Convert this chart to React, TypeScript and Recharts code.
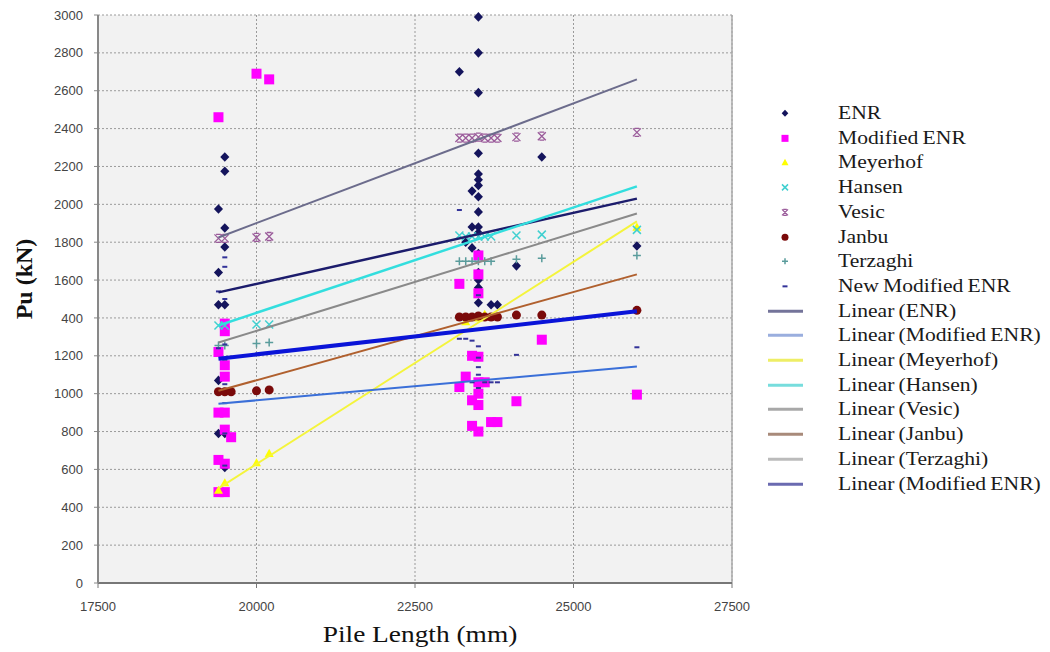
import React from "react"
import { ScatterChart, Scatter, XAxis, YAxis, CartesianGrid, ReferenceLine } from "recharts"

type Pt = [number, number]

const xTicks = [17500, 20000, 22500, 25000, 27500]
const yTicks = [0, 200, 400, 600, 800, 1000, 1200, 1400, 1600, 1800, 2000, 2200, 2400, 2600, 2800, 3000]
const yTickLabels = ["0", "200", "400", "600", "800", "1000", "1200", "400", "1600", "1800", "2000", "2200", "2400", "2600", "2800", "3000"]

const enr: Pt[] = [
  [19500, 2250], [19500, 2175], [19400, 1975], [19500, 1875], [19500, 1775], [19400, 1640],
  [19400, 1470], [19500, 1470], [19400, 1070], [19400, 790], [19500, 790], [19500, 610],
  [23500, 2990], [23500, 2800], [23200, 2700], [23500, 2590], [23500, 2270], [23500, 2160],
  [23500, 2130], [23500, 2100], [23400, 2070], [23500, 2040], [23500, 1960], [23400, 1880],
  [23500, 1880], [23500, 1850], [23300, 1800], [23400, 1770], [23500, 1740], [23500, 1640],
  [23500, 1600], [23500, 1560], [23500, 1530], [23500, 1480], [23700, 1470], [23800, 1470],
  [24100, 1675], [24500, 2250], [26000, 1780],
]
const modifiedEnr: Pt[] = [
  [19400, 2460], [20000, 2690], [20200, 2660], [19500, 1370], [19500, 1330], [19400, 1220],
  [19500, 1150], [19500, 1090], [19400, 900], [19500, 900], [19500, 810], [19600, 770],
  [19400, 650], [19500, 630], [19400, 480], [19500, 480],
  [23500, 1730], [23500, 1630], [23200, 1580], [23500, 1530], [23400, 1200], [23500, 1195],
  [23300, 1090], [23500, 1060], [23200, 1035], [23600, 1060], [23500, 1000], [23400, 965],
  [23500, 940], [23400, 830], [23500, 800], [23700, 850], [23800, 850], [24100, 960],
  [24500, 1285], [26000, 995],
]
const meyerhof: Pt[] = [
  [19400, 490], [19500, 530], [20000, 635], [20200, 685], [23300, 1380], [23500, 1400],
  [23600, 1420], [26000, 1880],
]
const hansen: Pt[] = [
  [19400, 1360], [19500, 1360], [20000, 1365], [20200, 1365], [23200, 1835], [23300, 1830],
  [23400, 1830], [23500, 1830], [23600, 1830], [23700, 1830], [24100, 1835], [24500, 1840],
  [26000, 1865],
]
const vesic: Pt[] = [
  [19400, 1820], [19500, 1820], [20000, 1825], [20200, 1830], [23200, 2350], [23300, 2350],
  [23400, 2350], [23500, 2355], [23600, 2350], [23700, 2350], [23800, 2350], [24100, 2355],
  [24500, 2360], [26000, 2380],
]
const janbu: Pt[] = [
  [19400, 1010], [19500, 1010], [19600, 1010], [20000, 1015], [20200, 1020], [23200, 1405],
  [23300, 1405], [23400, 1405], [23500, 1410], [23600, 1405], [23700, 1405], [23800, 1405],
  [24100, 1415], [24500, 1415], [26000, 1440],
]
const terzaghi: Pt[] = [
  [19400, 1255], [19500, 1255], [20000, 1265], [20200, 1270], [23200, 1700], [23300, 1700],
  [23400, 1700], [23500, 1700], [23600, 1700], [23700, 1700], [24100, 1710], [24500, 1715],
  [26000, 1730],
]
const newModifiedEnr: Pt[] = [
  [19500, 1720], [19500, 1670], [19400, 1540], [19500, 1500], [19500, 1260], [19400, 1240],
  [19500, 1180], [19500, 1050], [19500, 950], [19500, 790], [19500, 620],
  [23200, 1970], [23500, 1520], [23200, 1290], [23300, 1290], [23400, 1280], [23500, 1250],
  [23500, 1190], [23500, 1140], [23500, 1100], [23400, 1060], [23600, 1060], [23700, 1060],
  [23800, 1060], [23500, 1030], [24100, 1205], [26000, 1245],
]

// trend lines, end points
const trendX = [19400, 26000]
const trendVesic = [1825, 2660]
const trendEnr = [1535, 2030]
const trendHansen = [1360, 2095]
const trendTerzaghi = [1270, 1952]
const trendMeyerhof = [500, 1910]
const trendJanbu = [1015, 1630]
const trendNewMod = [1185, 1435]
const trendModEnr = [947, 1143]

const toXY = (pts: Pt[]) => pts.map(([x, y]) => ({ x, y }))
const trend = (ys: number[]) => trendX.map((x, i) => ({ x, y: ys[i] }))

const serif = "Liberation Serif, Times New Roman, serif"
const sans = "Liberation Sans, Arial, sans-serif"

const Diamond = ({ cx, cy, s = 4.8 }: any) => (
  <path d={`M${cx},${cy - s} L${cx + s * 0.95},${cy} L${cx},${cy + s} L${cx - s * 0.95},${cy} Z`} fill="#14145c" />
)
const Square = ({ cx, cy, s = 5 }: any) => <rect x={cx - s} y={cy - s} width={s * 2} height={s * 2} fill="#ff00ff" />
const Triangle = ({ cx, cy, s = 4.5 }: any) => (
  <path d={`M${cx},${cy - s} L${cx + s},${cy + s * 0.8} L${cx - s},${cy + s * 0.8} Z`} fill="#ffff00" />
)
const Cross = ({ cx, cy, s = 4 }: any) => (
  <path d={`M${cx - s},${cy - s} L${cx + s},${cy + s} M${cx - s},${cy + s} L${cx + s},${cy - s}`} stroke="#40d0d0" strokeWidth={1.5} />
)
const Star = ({ cx, cy, s = 4 }: any) => (
  <path
    d={`M${cx - s},${cy - s} L${cx + s},${cy + s} M${cx - s},${cy + s} L${cx + s},${cy - s} M${cx - s * 0.6},${cy - s} L${cx + s * 0.6},${cy - s} M${cx - s * 0.6},${cy + s} L${cx + s * 0.6},${cy + s}`}
    stroke="#9a5a9a"
    strokeWidth={1.3}
  />
)
const Dot = ({ cx, cy, s = 4.5 }: any) => <circle cx={cx} cy={cy} r={s} fill="#7a0a0a" />
const Plus = ({ cx, cy, s = 4 }: any) => (
  <path d={`M${cx - s},${cy} L${cx + s},${cy} M${cx},${cy - s} L${cx},${cy + s}`} stroke="#5a9c9c" strokeWidth={1.5} />
)
const Dash = ({ cx, cy }: any) => <rect x={cx - 2.5} y={cy - 1} width={5} height={2} fill="#333399" />
const NoShape = () => <g />

const markerRows = [
  { name: "ENR", Shape: Diamond, s: 3.5 },
  { name: "Modified ENR", Shape: Square, s: 3.5 },
  { name: "Meyerhof", Shape: Triangle, s: 3.5 },
  { name: "Hansen", Shape: Cross, s: 3 },
  { name: "Vesic", Shape: Star, s: 3 },
  { name: "Janbu", Shape: Dot, s: 3.5 },
  { name: "Terzaghi", Shape: Plus, s: 3 },
  { name: "New Modified ENR", Shape: Dash, s: 2 },
]
const lineRows = [
  { name: "Linear (ENR)", color: "#74749a" },
  { name: "Linear (Modified ENR)", color: "#9aaede" },
  { name: "Linear (Meyerhof)", color: "#eeee66" },
  { name: "Linear (Hansen)", color: "#77dddd" },
  { name: "Linear (Vesic)", color: "#a8a8a8" },
  { name: "Linear (Janbu)", color: "#a88a7a" },
  { name: "Linear (Terzaghi)", color: "#bbbbbb" },
  { name: "Linear (Modified ENR)", color: "#6a6ab0" },
]

const legendText: React.CSSProperties = {
  position: "absolute",
  left: 78,
  top: 0,
  lineHeight: "24.7px",
  fontFamily: serif,
  fontSize: 18,
  color: "#1a1a1a",
  whiteSpace: "nowrap",
  transform: "scaleX(1.2)",
  transformOrigin: "left center",
  wordSpacing: -1,
}

function ChartLegend() {
  const rowH = 24.7
  return (
    <div style={{ position: "absolute", left: 760, top: 101, width: 290 }}>
      {markerRows.map((r, i) => (
        <div key={"m" + i} style={{ position: "absolute", top: i * rowH, left: 0, height: rowH, width: 290 }}>
          <svg width={50} height={rowH} style={{ position: "absolute", left: 0, top: 0 }}>
            <r.Shape cx={25} cy={rowH / 2} s={r.s} />
          </svg>
          <span style={legendText}>{r.name}</span>
        </div>
      ))}
      {lineRows.map((r, i) => (
        <div key={"l" + i} style={{ position: "absolute", top: (i + 8) * rowH, left: 0, height: rowH, width: 290 }}>
          <svg width={50} height={rowH} style={{ position: "absolute", left: 0, top: 0 }}>
            <line x1={8} x2={43} y1={rowH / 2} y2={rowH / 2} stroke={r.color} strokeWidth={3} />
          </svg>
          <span style={legendText}>{r.name}</span>
        </div>
      ))}
    </div>
  )
}

export default function App() {
  return (
    <div style={{ position: "absolute", left: 0, top: 0, width: 1050, height: 652, background: "#fff", overflow: "hidden" }}>
      <ScatterChart width={1050} height={652} margin={{ top: 15, right: 318, left: 38, bottom: 39 }}>
        <CartesianGrid fill="#f2f2f2" stroke="#9a9a9a" strokeDasharray="2 2" />
        <XAxis
          type="number"
          dataKey="x"
          domain={[17500, 27500]}
          ticks={xTicks}
          interval={0}
          height={30}
          tickSize={5}
          tickMargin={14}
          axisLine={{ stroke: "#777", strokeWidth: 2 }}
          tickLine={{ stroke: "#777" }}
          tick={{ fontSize: 13, fill: "#444", fontFamily: sans }}
        />
        <YAxis
          type="number"
          dataKey="y"
          domain={[0, 3000]}
          ticks={yTicks}
          interval={0}
          width={60}
          tickSize={4}
          tickMargin={11}
          axisLine={{ stroke: "#888", strokeWidth: 2 }}
          tickLine={{ stroke: "#888" }}
          tick={{ fontSize: 13, fill: "#444", fontFamily: sans }}
          tickFormatter={(v: number) => yTickLabels[yTicks.indexOf(v)] ?? String(v)}
        />
        <ReferenceLine x={27500} stroke="#aaa" strokeWidth={1.5} />

        <Scatter data={toXY(enr)} shape={Diamond} isAnimationActive={false} />
        <Scatter data={toXY(modifiedEnr)} shape={Square} isAnimationActive={false} />
        <Scatter data={toXY(meyerhof)} shape={Triangle} isAnimationActive={false} />
        <Scatter data={toXY(hansen)} shape={Cross} isAnimationActive={false} />
        <Scatter data={toXY(vesic)} shape={Star} isAnimationActive={false} />
        <Scatter data={toXY(janbu)} shape={Dot} isAnimationActive={false} />
        <Scatter data={toXY(terzaghi)} shape={Plus} isAnimationActive={false} />
        <Scatter data={toXY(newModifiedEnr)} shape={Dash} isAnimationActive={false} />

        <Scatter data={trend(trendVesic)} line={{ stroke: "#6c6c8c", strokeWidth: 2 }} shape={NoShape} isAnimationActive={false} />
        <Scatter data={trend(trendEnr)} line={{ stroke: "#1c1c6c", strokeWidth: 2.5 }} shape={NoShape} isAnimationActive={false} />
        <Scatter data={trend(trendHansen)} line={{ stroke: "#33dede", strokeWidth: 2.5 }} shape={NoShape} isAnimationActive={false} />
        <Scatter data={trend(trendTerzaghi)} line={{ stroke: "#8a8a8a", strokeWidth: 2 }} shape={NoShape} isAnimationActive={false} />
        <Scatter data={trend(trendMeyerhof)} line={{ stroke: "#f4f43c", strokeWidth: 2 }} shape={NoShape} isAnimationActive={false} />
        <Scatter data={trend(trendJanbu)} line={{ stroke: "#b0602e", strokeWidth: 2 }} shape={NoShape} isAnimationActive={false} />
        <Scatter data={trend(trendModEnr)} line={{ stroke: "#3a6fd8", strokeWidth: 2 }} shape={NoShape} isAnimationActive={false} />
        <Scatter data={trend(trendNewMod)} line={{ stroke: "#0a14d8", strokeWidth: 4 }} shape={NoShape} isAnimationActive={false} />
      </ScatterChart>

      <div
        style={{
          position: "absolute",
          left: 24,
          top: 279,
          transform: "translate(-50%, -50%) rotate(-90deg)",
          fontFamily: serif,
          fontWeight: "bold",
          fontSize: 24,
          color: "#111",
          whiteSpace: "nowrap",
        }}
      >
        Pu (kN)
      </div>
      <div
        style={{
          position: "absolute",
          left: 420,
          top: 635,
          transform: "translate(-50%, -50%) scaleX(1.19)",
          fontFamily: serif,
          fontSize: 23,
          color: "#111",
          whiteSpace: "nowrap",
        }}
      >
        Pile Length (mm)
      </div>
      <ChartLegend />
    </div>
  )
}
